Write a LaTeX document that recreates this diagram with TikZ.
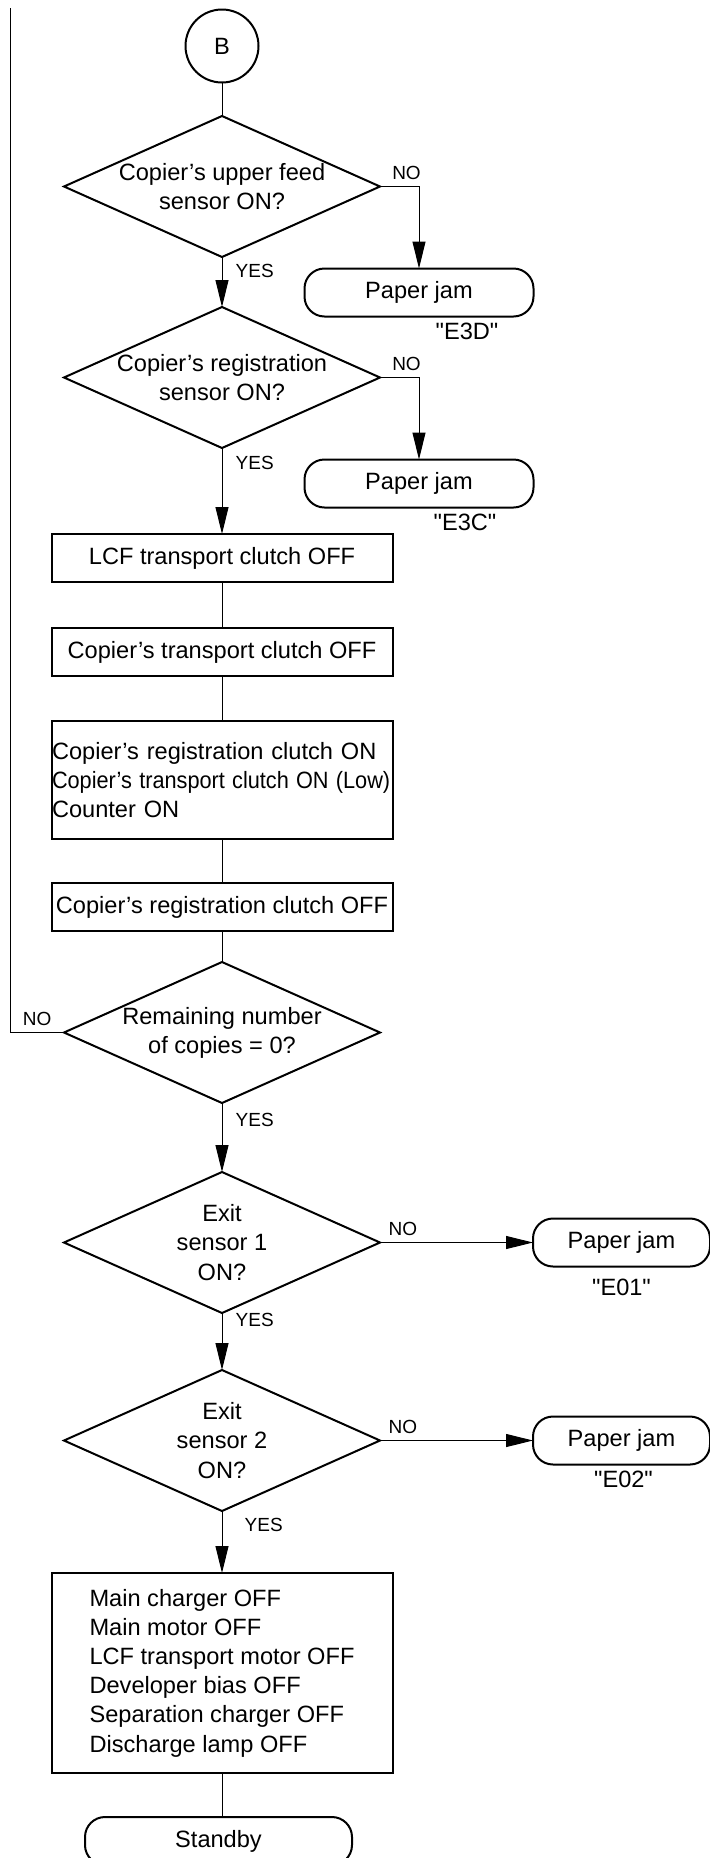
\documentclass[tikz,border=0pt]{standalone}
\usepackage{fontspec}
\setmainfont{Liberation Sans}
\usetikzlibrary{positioning}
\usetikzlibrary{arrows.meta}
\usetikzlibrary{shapes.geometric}

\begin{document}
\begin{tikzpicture}[every node/.style={font=\fontsize{11.8}{14.6}\selectfont,outer sep=0pt},
  conn/.style={line width=.5pt},
  arr/.style={conn,-{Triangle[length=13.5pt,width=6.5pt]}},
  lbl/.style={font=\fontsize{9.5}{11}\selectfont},
  proc/.style={draw,line width=1pt,minimum width=170.5pt,minimum height=24pt,inner sep=1pt},
  decision/.style={diamond,draw,line width=1pt,minimum width=158pt,minimum height=70.5pt,inner sep=-30pt,align=center},
  term/.style={draw,line width=1pt,rounded corners=10pt,minimum height=24pt}]
\useasboundingbox (0pt,0pt) rectangle (355pt,-929pt);
\node[circle,draw,line width=1pt,minimum size=36.5pt,inner sep=0pt] (b) at (111pt,-23pt) {B};
\node[decision,below=16.75pt of b] (upper) {Copier's upper feed\\sensor ON?};
\node[term,minimum width=114.5pt,below=41pt of upper.east,xshift=19.5pt] (jamd) {Paper jam};
\node[below=0pt of jamd,xshift=24pt] (e3d) {\textquotedbl E3D\textquotedbl};
\node[decision,below=25pt of upper] (reg) {Copier's registration\\sensor ON?};
\node[term,minimum width=114.5pt,below=41pt of reg.east,xshift=19.5pt] (jamc) {Paper jam};
\node[below=0pt of jamc,xshift=23pt] (e3c) {\textquotedbl E3C\textquotedbl};
\node[proc,below=43pt of reg] (lcf) {LCF transport clutch OFF};
\node[proc,below=23pt of lcf] (trans) {Copier's transport clutch OFF};
\node[proc,below=22.5pt of trans,minimum height=59pt,text width=170pt,align=left,inner xsep=0pt]
(regon) {Copier's registration clutch ON\\ \scalebox{0.92}[1]{Copier's transport clutch ON (Low)}\\ Counter ON};
\node[proc,below=22pt of regon] (regoff) {Copier's registration clutch OFF};
\node[decision,below=15.5pt of regoff] (count) {Remaining number\\of copies = 0?};
\node[decision,below=34.5pt of count] (exita) {Exit\\sensor 1\\ON?};
\node[term,minimum width=88.5pt,right=76.5pt of exita] (jama) {Paper jam};
\node[below=3pt of jama] (e01) {\textquotedbl E01\textquotedbl};
\node[decision,below=28.5pt of exita] (exitb) {Exit\\sensor 2\\ON?};
\node[term,minimum width=88.5pt,right=76.5pt of exitb] (jamb) {Paper jam};
\node[below=0pt of jamb,xshift=1pt] (e02) {\textquotedbl E02\textquotedbl};
\node[proc,below=31pt of exitb,minimum height=100pt,align=left]
(off) {Main charger OFF\\ Main motor OFF\\ LCF transport motor OFF\\ Developer bias OFF\\ Separation charger OFF\\ Discharge lamp OFF};
\node[term,minimum width=133.5pt,below=22pt of off,xshift=-1.75pt] (standby) {Standby};
\coordinate (loop) at (5.25pt,-4pt);
\draw[conn] (b) -- (upper);
\draw[arr] (upper) -- node[lbl,right=3.5pt,pos=.28] {YES} (reg);
\draw[arr] (upper.east) -| node[lbl,above,pos=.34] {NO} (jamd);
\draw[arr] (reg) -- node[lbl,right=3.5pt,pos=.17] {YES} (lcf);
\draw[arr] (reg.east) -| node[lbl,above,pos=.34] {NO} (jamc);
\draw[conn] (lcf) -- (trans);
\draw[conn] (trans) -- (regon);
\draw[conn] (regon) -- (regoff);
\draw[conn] (regoff) -- (count);
\draw[conn] (count.west) -- node[lbl,above] {NO} (count.west -| loop) -- (loop);
\draw[arr] (count) -- node[lbl,right=3.5pt,pos=.25] {YES} (exita);
\draw[arr] (exita) -- node[lbl,above,pos=.15] {NO} (jama);
\draw[arr] (exita) -- node[lbl,right=3.5pt,pos=.12] {YES} (exitb);
\draw[arr] (exitb) -- node[lbl,above,pos=.15] {NO} (jamb);
\draw[arr] (exitb) -- node[lbl,right=8pt,pos=.23] {YES} (off);
\draw[conn] (off.south) -- (off.south |- standby.north);
\end{tikzpicture}
\end{document}
